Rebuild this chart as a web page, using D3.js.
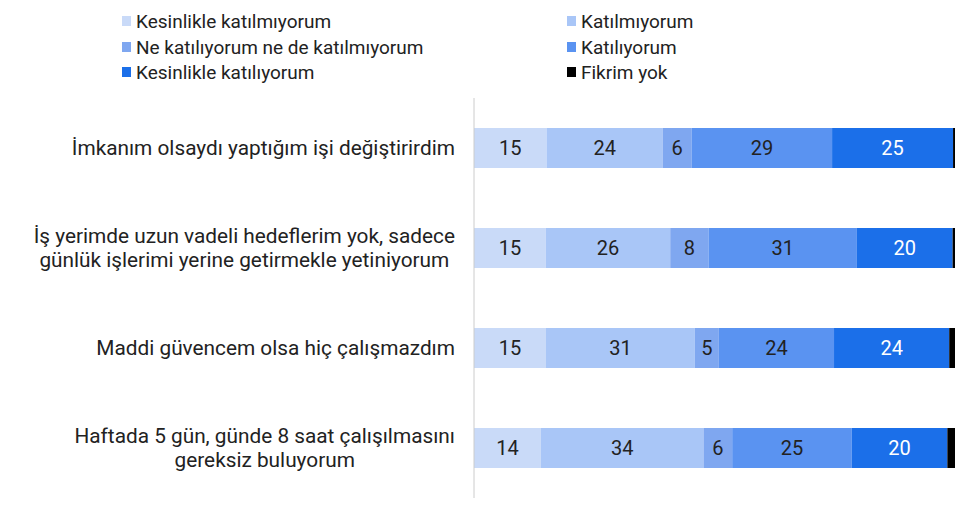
<!DOCTYPE html><html><head><meta charset="utf-8">
<script src="https://cdn.jsdelivr.net/npm/d3@7"></script>
<style>body{margin:0;background:#fff}text{font-family:Roboto,sans-serif}</style></head><body>
<svg id="c" width="975" height="515"></svg>
<script>
const categories=[["İmkanım olsaydı yaptığım işi değiştirirdim"],["İş yerimde uzun vadeli hedeflerim yok, sadece","günlük işlerimi yerine getirmekle yetiniyorum"],["Maddi güvencem olsa hiç çalışmazdım"],["Haftada 5 gün, günde 8 saat çalışılmasını","gereksiz buluyorum"]];
const seriesNames=["Kesinlikle katılmıyorum","Katılmıyorum","Ne katılıyorum ne de katılmıyorum","Katılıyorum","Kesinlikle katılıyorum","Fikrim yok"];
const colors=["#c9daf8","#a9c6f7","#7fa7f0","#5a93f1","#1b6fe9","#000000"];
const v0=[15,24,6,29,25,0.4];
const v1=[15,26,8,31,20,0.5];
const v2=[15,31,5,24,24,1.2];
const v3=[14,34,6,25,20,1.6];
const values=[v0,v1,v2,v3];
const svg=d3.select("#c");
const data=values.map((v,i)=>{const o={i};v.forEach((x,j)=>o[j]=x);return o;});
const stack=d3.stack().keys(d3.range(6)).offset(d3.stackOffsetExpand)(data);
const x=d3.scaleLinear().domain([0,1]).range([474,955]);
const y=d3.scaleBand().domain(d3.range(4)).range([98,498]).paddingInner(0.6).paddingOuter(0.3);
stack.forEach((s,k)=>{
 svg.append("g").selectAll("rect").data(s).join("rect").attr("x",d=>x(d[0])).attr("width",d=>x(d[1])-x(d[0])).attr("y",(d,i)=>y(i)).attr("height",y.bandwidth()).attr("fill",colors[k]);
 if(k<5) svg.append("g").selectAll("text").data(s).join("text").attr("x",d=>(x(d[0])+x(d[1]))/2).attr("y",(d,i)=>y(i)+y.bandwidth()/2).attr("dy","0.36em").attr("text-anchor","middle").attr("font-size",20).attr("fill",k==4?"#fff":"#222").text((d,i)=>values[i][k]);
});
svg.append("line").attr("x1",474).attr("x2",474).attr("y1",98).attr("y2",498).attr("stroke","#ccc");
categories.forEach((lines,i)=>{const cy=y(i)+y.bandwidth()/2;
 const t=svg.append("text").attr("font-size",20.8).attr("fill","#222");
 const sp=lines.map((l,j)=>t.append("tspan").attr("y",cy+(j-(lines.length-1)/2)*24).attr("dy","0.36em").text(l));
 const ws=sp.map(s=>s.node().getComputedTextLength());const mw=d3.max(ws);
 sp.forEach((s,j)=>s.attr("x",455-mw/2-ws[j]/2));});
const lx=[122,567],ly=[21,47,72];
seriesNames.forEach((n,i)=>{const g=svg.append("g").attr("transform",`translate(${lx[i%2]},${ly[Math.floor(i/2)]})`);
 g.append("rect").attr("x",0).attr("y",-5).attr("width",9).attr("height",10).attr("fill",colors[i]);
 g.append("text").attr("x",14).attr("dy","0.35em").attr("font-size",19).attr("fill","#222").text(n);});
</script></body></html>
